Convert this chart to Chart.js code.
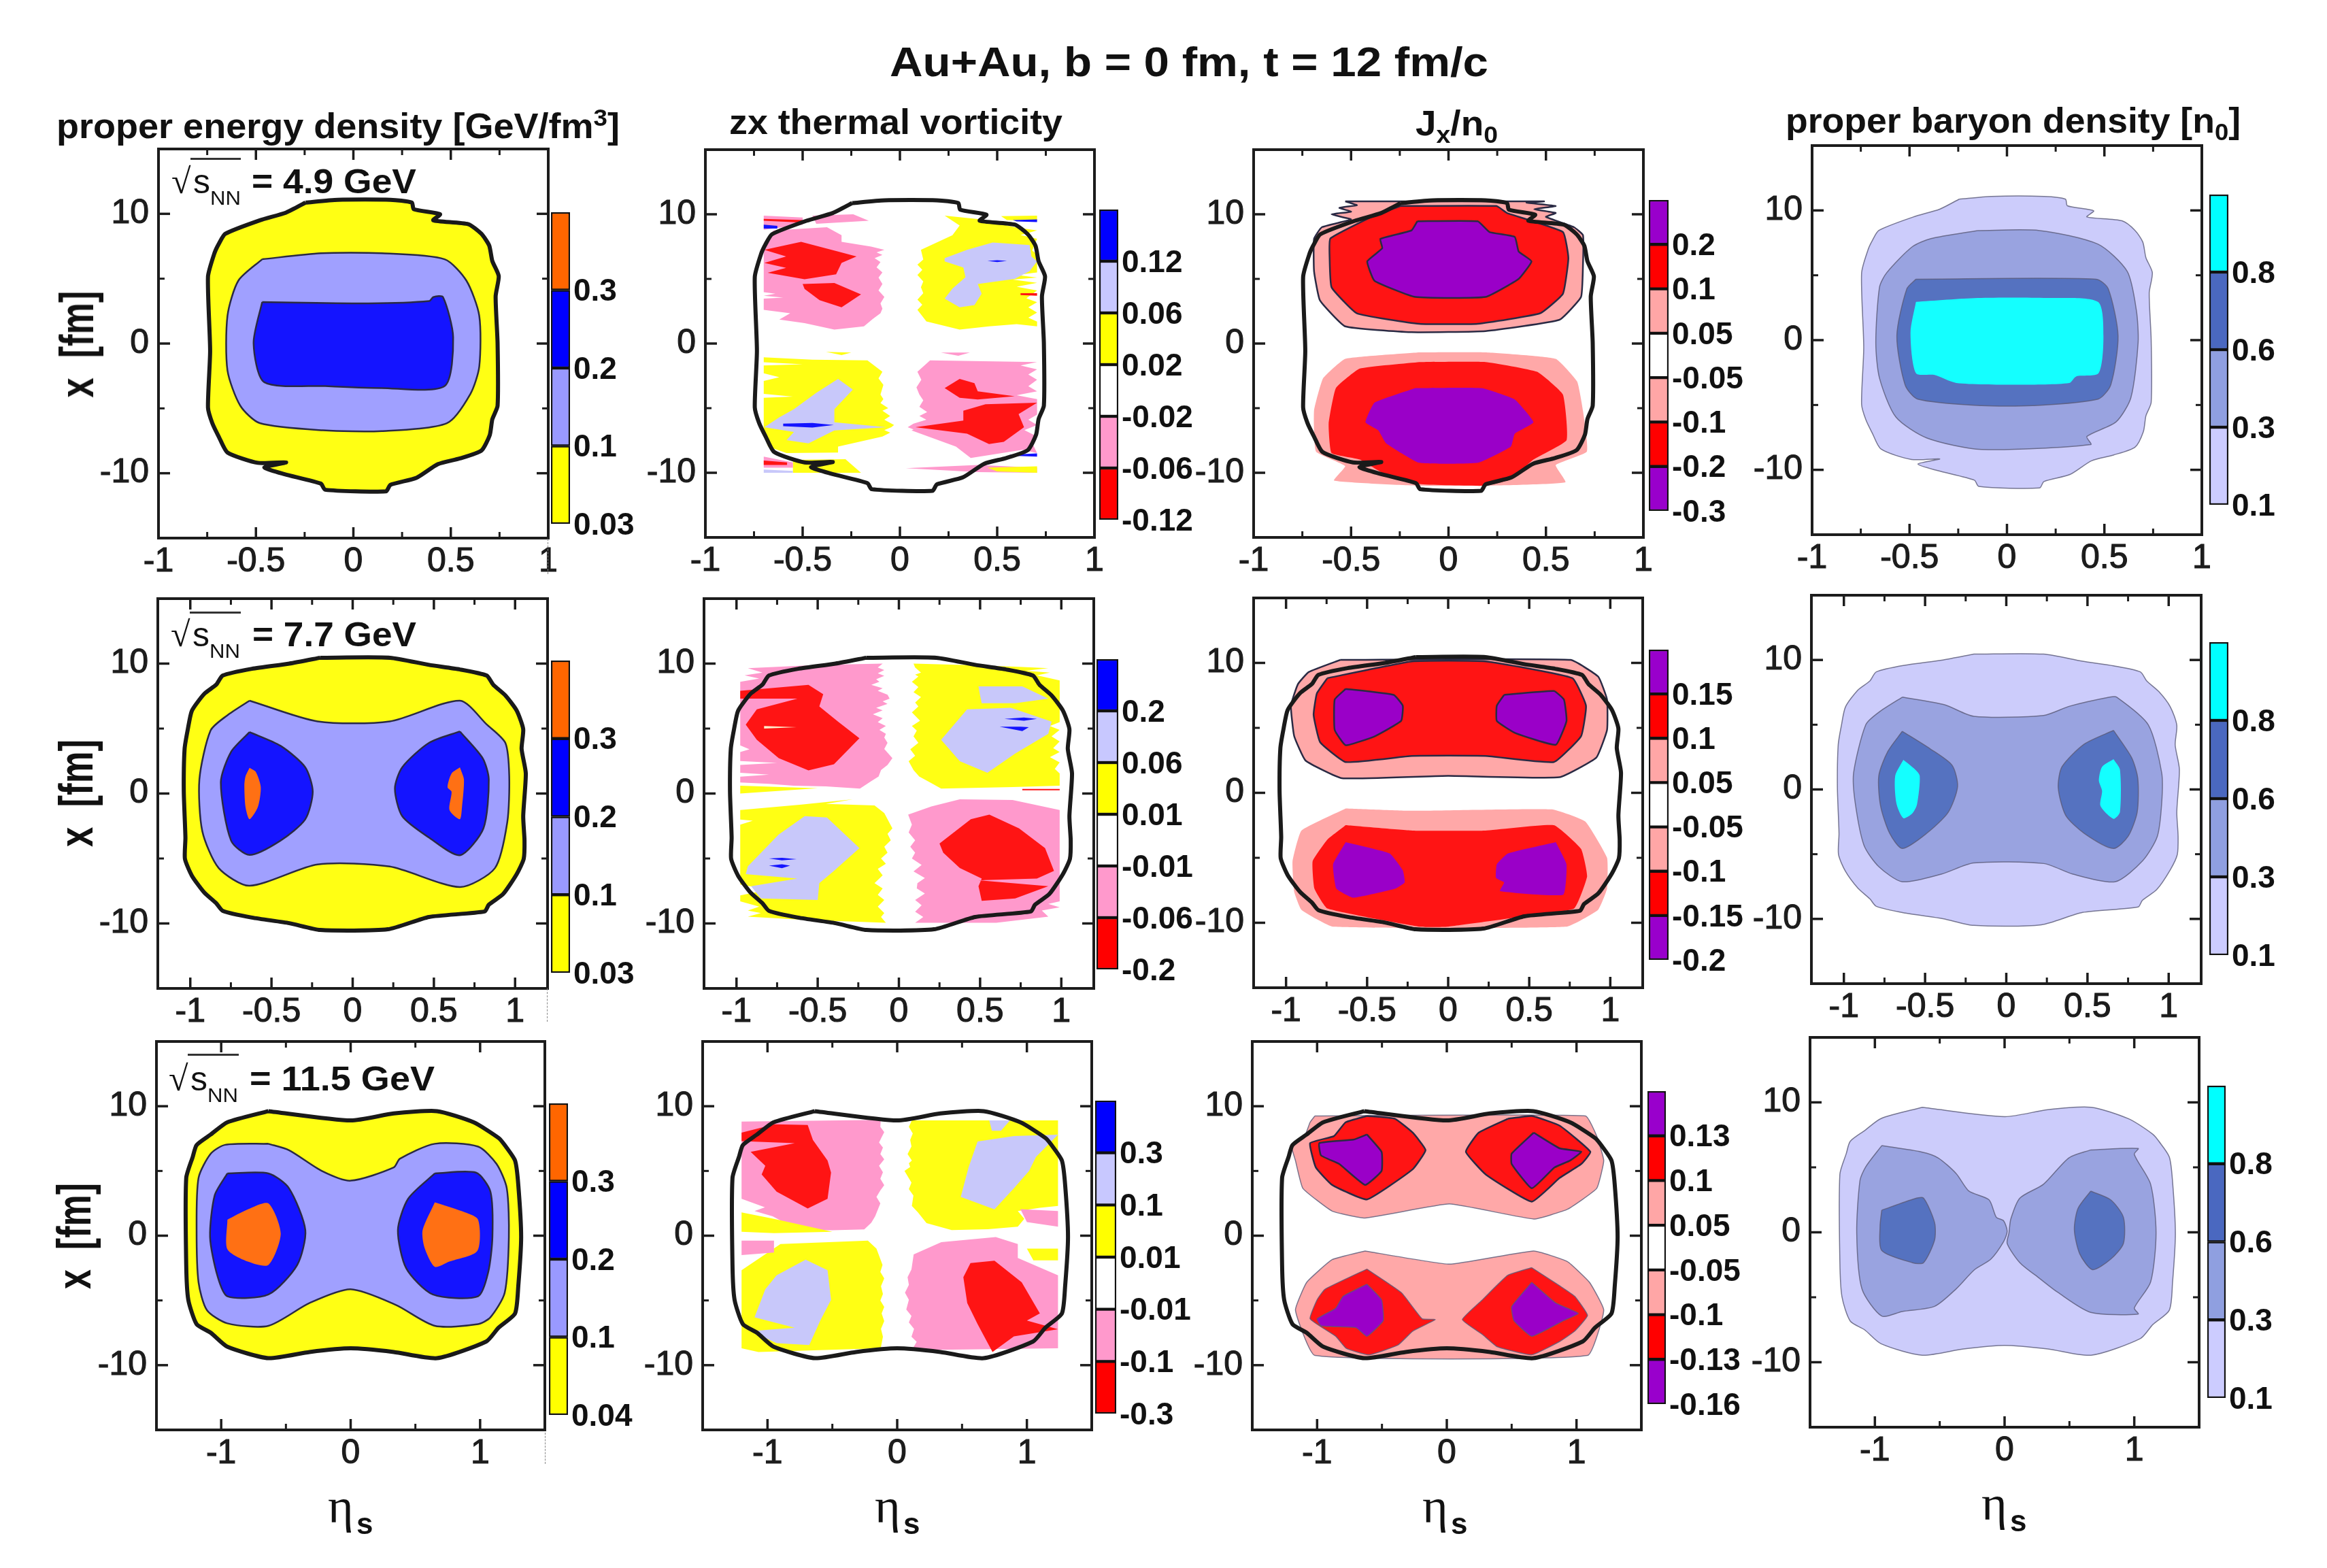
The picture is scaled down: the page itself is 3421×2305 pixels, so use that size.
<!DOCTYPE html>
<html><head><meta charset="utf-8">
<script src="https://cdn.jsdelivr.net/npm/chart.js@4/dist/chart.umd.js"></script>
<style>
html,body{margin:0;padding:0;background:#fff;width:3421px;height:2305px;overflow:hidden}
canvas{position:absolute}
.t{position:absolute;white-space:nowrap;line-height:1;color:#111;font-family:"Liberation Sans",Arial,sans-serif;transform-origin:0 0}
.t sub,.t sup{line-height:0;font-size:68%}
</style></head><body>
<script>
// ---------- contour data, [eta_s, x] ----------
const boundary49=[[-.245,10.87],[-.08,11.08],[.19,11.08],[.30,10.87],[.31,10.36],[.445,9.97],[.41,9.5],[.59,9.2],[.657,8.46],[.697,7.56],[.713,6.36],[.746,5.2],[.73,3.64],[.74,.03],[.74,-4.8],[.713,-5.84],[.70,-7.05],[.657,-8.25],[.546,-8.86],[.434,-9.3],[.323,-10.36],[.19,-10.9],[.167,-11.4],[-.145,-11.27],[-.167,-10.8],[-.356,-10.06],[-.457,-9.55],[-.345,-9.16],[-.49,-9.2],[-.646,-8.4],[-.69,-7.2],[-.724,-6.14],[-.746,-4.94],[-.735,-.57],[-.746,5.15],[-.713,6.96],[-.69,7.7],[-.657,8.46],[-.48,9.5],[-.345,10.1]];
const boundary77=[[-.2,10.45],[.23,10.45],[.47,9.9],[.66,9.55],[.825,9.08],[.865,8.38],[.94,7.55],[1.01,6.38],[1.05,4.96],[1.04,3.44],[1.066,1.55],[1.05,-1.74],[1.058,-3.62],[1.053,-5.03],[1.01,-6.2],[.926,-7.74],[.838,-8.56],[.812,-9.08],[.47,-9.5],[.216,-10.45],[-.2,-10.5],[-.39,-9.98],[-.62,-9.55],[-.8,-9.03],[-.84,-8.45],[-.914,-7.62],[-.99,-6.33],[-1.033,-5.03],[-1.03,-3.39],[-1.04,.14],[-1.035,3.44],[-1.015,4.96],[-.99,6.38],[-.914,7.67],[-.84,8.38],[-.8,9.08],[-.62,9.6],[-.39,10]];
const boundary115=[[-.635,9.62],[0,8.9],[.333,9.44],[.667,9.62],[.95,8.76],[1.143,7.55],[1.19,7],[1.27,5.8],[1.295,3.92],[1.317,-.1],[1.295,-3.87],[1.27,-6],[1.143,-7.1],[1.048,-8.17],[.667,-9.46],[.333,-8.98],[0,-8.7],[-.317,-8.98],[-.635,-9.46],[-.952,-8.58],[-1.08,-7.5],[-1.19,-6.83],[-1.254,-4.95],[-1.27,-2.26],[-1.27,4.46],[-1.22,6.08],[-1.19,7],[-1.08,7.82],[-.952,8.76]];

// energy density
const e49Light=[[-.468,6.5],[-.167,6.96],[.145,6.96],[.468,6.5],[.58,4.85],[.646,2.14],[.646,-1.78],[.6,-3.9],[.48,-6.14],[.145,-6.75],[-.156,-6.69],[-.48,-6.14],[-.58,-4.8],[-.646,-2.08],[-.646,2.14],[-.59,4.85]];
const e49Blue=[[-.468,3.2],[.078,3.1],[.39,3.28],[.41,3.58],[.46,3.58],[.512,.48],[.468,-3.28],[.145,-3.43],[-.145,-3.28],[-.457,-2.98],[-.512,.03]];
const e77Light=[[-.635,7.15],[-.216,5.55],[.228,5.55],[.66,7.15],[.825,5.32],[.94,3.9],[.964,1.32],[.952,-2.2],[.876,-5.74],[.66,-7.2],[.228,-5.62],[-.216,-5.46],[-.635,-7.1],[-.825,-5.74],[-.926,-2.9],[-.944,1.08],[-.875,4.85],[-.774,6]];
const e77BlueL=[[-.635,4.73],[-.444,3.67],[-.292,2.02],[-.246,.14],[-.292,-1.98],[-.444,-3.62],[-.635,-4.73],[-.749,-3.62],[-.812,.85],[-.749,3.2]];
const e77BlueR=[[.66,4.78],[.8,2.73],[.838,1.08],[.805,-2.68],[.66,-4.75],[.47,-3.39],[.305,-1.74],[.26,.38],[.305,2.02],[.47,3.9]];
const e77OrangeL=[[-.635,1.98],[-.597,1.67],[-.566,.49],[-.584,-1.04],[-.635,-1.98],[-.66,-1.04],[-.667,.6],[-.66,1.32]];
const e77OrangeR=[[.66,2.02],[.685,1.08],[.673,-1.04],[.66,-1.98],[.596,-1.27],[.609,.14],[.584,.49],[.609,1.55]];
const e115Light=[[-.635,7.1],[-.476,6.6],[-.222,5],[0,4.25],[.333,5.27],[.38,5.94],[.65,7.1],[.984,6.88],[1.127,5.54],[1.206,3.66],[1.222,-.1],[1.19,-4.4],[1.08,-6.3],[.984,-6.83],[.65,-6.96],[.35,-5.35],[0,-4.14],[-.317,-5.2],[-.635,-6.96],[-.952,-6.77],[-1.11,-5.75],[-1.175,-3.6],[-1.19,.43],[-1.175,4.46],[-1.08,6.34],[-.968,7.02]];
const e115BlueL=[[-.952,4.81],[-.635,4.81],[-.476,3.66],[-.35,.43],[-.413,-2.26],[-.635,-4.54],[-.952,-4.68],[-1.03,-3.06],[-1.086,-.1],[-1.05,3.12]];
const e115BlueR=[[.65,4.81],[.968,4.87],[1.08,3.39],[1.095,-.1],[1.063,-2.8],[.984,-4.68],[.635,-4.54],[.43,-2.53],[.365,.43],[.444,2.85]];
const e115OrangeL=[[-.952,1.24],[-.794,2.04],[-.635,2.5],[-.54,.16],[-.635,-2.26],[-.794,-2],[-.952,-1.05]];
const e115OrangeR=[[.65,2.58],[.857,1.9],[.984,1.24],[.978,-1.18],[.762,-2],[.65,-2.4],[.57,-.9],[.556,.43]];

// vorticity 4.9
const v49PinkUL=[[-.65,8.75],[-.375,9],[-.3,8.38],[-.3,7.87],[-.148,7.5],[-.08,7.25],[-.12,7.05],[-.09,6.85],[-.13,6.6],[-.1,6.3],[-.12,5.9],[-.09,5.5],[-.11,5.1],[-.09,4.6],[-.11,4.1],[-.08,3.6],[-.1,3.1],[-.09,2.7],[-.1,2.34],[-.14,1.9],[-.185,1.33],[-.337,1.08],[-.49,1.58],[-.62,1.85],[-.564,2.34],[-.7,2.6],[-.7,3.47],[-.6,3.55],[-.7,3.7],[-.64,3.85],[-.7,3.97],[-.7,7.76],[-.68,8.2]];
const v49PinkTop=[[-.45,9.89],[-.24,10],[-.16,9.5],[-.43,9.26]];
const v49PinkCorner=[[-.7,9.9],[-.5,9.75],[-.5,9.2],[-.7,8.8]];
const v49RedUL=[[-.697,7.25],[-.508,7.87],[-.318,7.12],[-.223,6.74],[-.3,6.24],[-.328,5.36],[-.49,4.98],[-.68,5.48],[-.585,5.86],[-.697,6.24],[-.585,6.74]];
const v49RedUL2=[[-.5,4.6],[-.337,4.68],[-.2,3.8],[-.3,2.8],[-.413,3.35],[-.49,4.23]];
const v49RedStripe=[[-.7,9.65],[-.5,9.55],[-.5,9.35],[-.7,9.5]];
const v49BlueStripe=[[-.7,9.2],[-.63,9.1],[-.63,8.9],[-.7,8.9]];
const v49YellowUR=[[.23,9.89],[.4,9.63],[.59,9],[.705,8.75],[.62,8.4],[.705,8.1],[.68,7.2],[.705,6.9],[.705,5.5],[.6,5.3],[.705,5.1],[.58,4.95],[.705,4.7],[.6,4.4],[.705,4.1],[.65,3.5],[.705,3.2],[.66,2.8],[.705,2.4],[.66,2],[.705,1.7],[.705,1.33],[.6,1.5],[.458,1.33],[.307,1.08],[.136,1.71],[.09,2.6],[.115,3],[.09,3.4],[.12,3.9],[.108,4.35],[.12,4.8],[.09,5.3],[.115,5.7],[.09,6.1],[.12,6.5],[.108,7.25],[.27,8.38],[.307,9.13]];
const v49YellowCorner=[[.52,9.85],[.705,9.9],[.705,9.5],[.55,9.55]];
const v49BlueCorner=[[.58,9.55],[.705,9.6],[.705,9.4],[.6,9.45]];
const v49LavUR=[[.23,6.6],[.345,7.25],[.477,7.82],[.667,7.62],[.676,6.74],[.705,6.36],[.667,5.6],[.59,5],[.40,4.6],[.42,3.85],[.383,2.97],[.307,2.8],[.23,3.47],[.27,4.25],[.337,5.13],[.326,5.88],[.23,6.35]];
const v49BlueUR=[[.45,6.4],[.5,6.45],[.55,6.4],[.5,6.3]];
const v49RedRight=[[.62,3.9],[.705,3.9],[.705,3.7],[.62,3.75]];
const v49YellowLL=[[-.7,-1.06],[-.45,-1.25],[-.167,-1.3],[-.09,-2.19],[-.11,-2.7],[-.085,-3.2],[-.1,-3.95],[-.085,-4.3],[-.1,-4.6],[-.06,-5],[-.09,-5.2],[-.05,-5.6],[-.08,-5.9],[-.03,-6.3],[-.044,-6.47],[-.08,-6.7],[-.05,-6.9],[-.09,-7.2],[-.318,-7.97],[-.318,-8.43],[-.583,-8.48],[-.678,-7.97],[-.7,-7],[-.7,-4.2],[-.55,-4.1],[-.7,-3.9],[-.7,-2.9],[-.62,-2.6],[-.7,-2.3],[-.7,-1.7],[-.5,-1.6],[-.7,-1.45]];
const v49YellowLow=[[-.55,-9],[-.28,-8.95],[-.2,-10],[-.55,-10]];
const v49PinkLowCorner=[[-.7,-8.75],[-.55,-9.2],[-.55,-9.6],[-.7,-9.6]];
const v49RedLowCorner=[[-.7,-9.05],[-.58,-9.2],[-.58,-9.4],[-.7,-9.4]];
const v49LavLowCorner=[[-.7,-9.75],[-.55,-9.85],[-.55,-10],[-.7,-10]];
const v49LavLL=[[-.318,-2.74],[-.242,-3.57],[-.337,-5.08],[-.337,-6.09],[-.07,-6.47],[-.337,-6.72],[-.47,-7.72],[-.583,-7.47],[-.545,-6.84],[-.697,-6.47],[-.62,-5.71],[-.545,-5.08],[-.43,-3.82]];
const v49BlueLL=[[-.6,-6.2],[-.45,-6.15],[-.34,-6.3],[-.45,-6.5],[-.6,-6.4]];
const v49PinkLR=[[.09,-2.19],[.155,-1.3],[.705,-1.43],[.62,-1.7],[.705,-2],[.66,-2.4],[.705,-2.8],[.66,-3.3],[.705,-3.7],[.6,-4],[.705,-4.3],[.705,-5.5],[.66,-5.9],[.705,-6.3],[.64,-6.7],[.705,-7.2],[.68,-7.7],[.705,-8.48],[.63,-8.23],[.364,-8.86],[.288,-7.97],[.06,-6.72],[.07,-6.65],[.04,-6.47],[.07,-6.2],[.136,-5.9],[.1,-5.6],[.14,-5.3],[.1,-4.9],[.12,-4.4],[.1,-3.95],[.085,-3.4],[.11,-2.8]];
const v49RedLR=[[.23,-3.45],[.307,-2.74],[.383,-3.07],[.4,-3.7],[.59,-4.08],[.4,-4.33],[.307,-4.2]];
const v49RedLR2=[[.326,-5.2],[.44,-4.7],[.705,-4.58],[.61,-5.46],[.638,-6.47],[.534,-7.6],[.458,-7.77],[.345,-6.97],[.08,-6.47],[.326,-5.96]];
const v49PinkLowStrip=[[.03,-9.65],[.4,-9.4],[.705,-9.6],[.705,-10],[.4,-9.95]];
const v49YellowLowStrip=[[.45,-9.6],[.705,-9.5],[.705,-10],[.5,-9.9]];
const v49BlueLowStrip=[[.56,-8.6],[.705,-8.5],[.705,-8.75],[.6,-8.7]];
const v49PinkMid=[[.21,-.7],[.36,-.7],[.3,-.95]];
const v49YellowMid=[[-.38,-.65],[-.25,-.7],[-.3,-.9]];

// vorticity 7.7
const v77PinkUL=[[-.93,9.65],[-.5,9.9],[-.1,10],[-.13,9.7],[-.09,9.5],[-.13,9.25],[-.09,9.06],[-.14,8.8],[-.12,8.6],[-.17,8.36],[-.1,8.1],[-.13,7.9],[-.07,7.6],[-.057,7.3],[-.1,7.1],[-.07,6.9],[-.14,6.6],[-.1,6.4],[-.16,6.1],[-.1,5.8],[-.13,5.5],[-.08,5.2],[-.12,4.9],[-.08,4.6],[-.09,4.3],[-.07,3.9],[-.09,3.43],[-.04,2.72],[-.07,2.2],[-.11,1.8],[-.125,1.31],[-.17,.95],[-.24,.38],[-.45,.55],[-.648,.6],[-.8,.75],[-.977,.85],[-.977,1.3],[-.8,1.45],[-.977,1.6],[-.977,2.2],[-.75,2.35],[-.977,2.5],[-.977,3.2],[-.92,3.4],[-.977,3.7],[-.977,8.6],[-.86,8.85],[-.95,9.1],[-.84,9.3]];
const v77RedUL=[[-.977,7.9],[-.557,8.36],[-.466,7.65],[-.49,6.7],[-.375,5.54],[-.243,4.25],[-.4,2.25],[-.557,1.78],[-.74,2.72],[-.875,4.13],[-.943,5.3],[-.875,6.48],[-.625,7.3],[-.977,7.3]];
const v77PaleUL=[[-.83,5.2],[-.63,5.1],[-.83,5]];
const v77YellowUR=[[.09,10],[.4,9.9],[.716,9.76],[.92,9.65],[.78,9.45],[.93,9.3],[.85,9.1],[.99,8.7],[.99,8.36],[.99,5.5],[.93,5.2],[.99,4.9],[.94,4.4],[.99,4],[.95,3.5],[.99,3.2],[.93,2.8],[.99,2.4],[.96,1.9],[.99,1.55],[.99,.6],[.7,.5],[.26,.38],[.2,.8],[.125,1.31],[.09,1.8],[.06,2.49],[.1,2.9],[.07,3.4],[.12,3.9],[.09,4.4],[.11,4.84],[.08,5.2],[.13,5.6],[.08,6.24],[.12,6.7],[.1,7],[.136,7.42],[.09,7.8],[.12,8.2],[.08,8.6],[.12,9],[.1,9.15],[.136,9.3],[.1,9.7]];
const v77LavUR1=[[.49,8.24],[.76,8.24],[.92,7.3],[.716,6.95],[.51,6.95],[.5,7.54]];
const v77LavUR2=[[.26,4.13],[.42,6.48],[.69,6.6],[.94,5.54],[.92,4.6],[.716,3.07],[.545,1.6],[.375,2.49]];
const v77BlueUR1=[[.65,5.75],[.77,5.85],[.85,5.75],[.77,5.6]];
const v77BlueUR2=[[.62,5.15],[.75,5.15],[.8,5.1],[.76,4.8]];
const v77YellowLL=[[-.977,-1.27],[-.6,-.85],[-.284,-.45],[-.45,-.8],[-.15,-.92],[-.09,-1.5],[-.04,-2.68],[-.07,-3.1],[-.05,-3.6],[-.09,-4.1],[-.07,-4.55],[-.11,-5],[-.08,-5.4],[-.13,-5.8],[-.1,-6.3],[-.15,-6.9],[-.1,-7.3],[-.13,-7.8],[-.09,-8.2],[-.13,-8.7],[-.09,-9.2],[-.11,-9.5],[-.08,-9.95],[-.58,-9.72],[-.93,-9.48],[-.85,-9.2],[-.93,-9],[-.86,-8.7],[-.977,-8.3],[-.977,-7.84],[-.8,-7.4],[-.977,-7],[-.977,-2.4],[-.9,-2.1],[-.977,-2]];
const v77LavLL=[[-.93,-5.6],[-.74,-3.15],[-.58,-1.74],[-.443,-1.85],[-.243,-4.2],[-.4,-5.96],[-.49,-6.9],[-.5,-8.2],[-.85,-8.07],[-.91,-7.14],[-.625,-6.55],[-.943,-6.2]];
const v77BlueLL1=[[-.8,-5],[-.72,-4.95],[-.63,-5.05],[-.72,-5.15]];
const v77BlueLL2=[[-.8,-5.55],[-.72,-5.45],[-.67,-5.55],[-.72,-5.75]];
const v77PinkLR=[[.057,-1.62],[.2,-1],[.375,-.45],[.7,-.5],[.99,-1.27],[.99,-8.3],[.92,-8.5],[.99,-8.75],[.88,-9],[.92,-9.48],[.6,-9.95],[.1,-9.95],[.15,-9.5],[.1,-9.1],[.14,-8.6],[.1,-8.2],[.16,-7.7],[.11,-7.3],[.114,-6.9],[.16,-6.5],[.09,-6],[.14,-5.5],[.08,-5],[.1,-4.55],[.07,-4.1],[.1,-3.6],[.06,-3],[.08,-2.4]];
const v77RedLR=[[.25,-3.85],[.443,-1.97],[.557,-1.62],[.74,-2.68],[.9,-4.2],[.955,-5.96],[.85,-6.55],[.49,-6.67],[.92,-7.14],[.716,-8.07],[.51,-8.26],[.49,-7.14],[.51,-6.55],[.375,-5.73],[.273,-4.55]];
const v77YellowMid=[[-.977,.6],[-.5,.4],[-.977,0]];
const v77RedMid=[[.76,.35],[.99,.35],[.99,.25],[.76,.25]];

// vorticity 11.5
const v115PinkUL=[[-1.2,8.82],[-.127,8.95],[-.13,8.4],[-.1,8],[-.12,7.6],[-.14,7.2],[-.11,6.8],[-.13,6.3],[-.1,5.9],[-.14,5.4],[-.11,4.9],[-.13,4.4],[-.1,3.9],[-.13,3.5],[-.16,3],[-.13,2.5],[-.17,1.5],[-.2,1],[-.254,.48],[-.5,.42],[-.79,.43],[-.85,.9],[-.96,1.5],[-1.1,1.9],[-1.02,2.2],[-1.2,2.85]];
const v115RedUL=[[-1.2,7.96],[-.946,8.6],[-.69,8.55],[-.65,7.4],[-.537,5.8],[-.51,4.87],[-.537,2.85],[-.69,2.1],[-.93,3.4],[-1.045,4.73],[-1.017,5.4],[-1.13,6.48],[-.79,7.15],[-1.2,7.3]];
const v115YellowUR=[[.113,8.9],[1.24,8.9],[1.24,2.3],[1.1,2.15],[.93,1.9],[.98,1.3],[.93,.7],[.7,.5],[.42,.43],[.226,.97],[.16,1.8],[.113,2.3],[.125,3.1],[.09,3.6],[.11,4.1],[.056,5],[.1,5.3],[.09,5.6],[.113,5.8],[.08,6.3],[.11,6.9],[.1,7.4],[.12,7.9],[.09,8.4]];
const v115LavUR=[[.62,7.28],[.9,7.7],[1.24,7.8],[1.07,6.08],[1.017,5],[.9,3.66],[.75,2.04],[.49,3],[.55,5.27]];
const v115LavTop=[[.71,8.9],[.87,8.9],[.8,8.1],[.73,8.1]];
const v115PinkRight=[[.95,2.05],[1.24,1.9],[1.24,.7],[1,1.05]];
const v115YellowLL=[[-1.2,-2.66],[-.9,-.65],[-.226,-.38],[-.16,-1],[-.113,-2.26],[-.13,-2.8],[-.1,-3.3],[-.125,-3.9],[-.11,-4.5],[-.13,-5],[-.1,-5.5],[-.12,-6],[-.1,-6.6],[-.125,-7.2],[-.11,-7.8],[-.127,-8.7],[-1.07,-8.98],[-1.2,-8.7]];
const v115YellowLeft=[[-1.2,1.8],[-.95,1.3],[-.5,.3],[-.95,.2],[-1.2,.3]];
const v115PinkLeft=[[-1.2,-.38],[-.95,-.38],[-.95,-1.3],[-1.2,-1.5]];
const v115LavLL=[[-.93,-3.06],[-.706,-1.85],[-.537,-2.66],[-.51,-4.95],[-.593,-6.56],[-.678,-8.44],[-.93,-8.3],[-1.13,-7.37],[-.79,-7.1],[-1.1,-6.3],[-1.017,-4.14]];
const v115PinkLR=[[.127,-1.45],[.34,-.5],[.76,-.1],[.93,-.65],[.93,-1.72],[1.24,-3.06],[1.24,-8.7],[.113,-8.84],[.15,-8.2],[.11,-7.8],[.13,-7.2],[.09,-6.7],[.11,-6.2],[.07,-5.7],[.09,-4.95],[.06,-4.4],[.09,-3.8],[.08,-3.2],[.11,-2.6]];
const v115RedLR=[[.51,-3.2],[.565,-2.12],[.75,-1.93],[.96,-3.6],[1.1,-6],[1,-6.56],[1.24,-7.23],[.9,-7.77],[.735,-8.98],[.62,-6.83],[.54,-5.2]];
const v115YellowRight=[[1,-1],[1.24,-1],[1.24,-1.9],[1.05,-1.9]];

// Jx 4.9
const j49PinkU=[[-.53,11],[.49,11],[.4,10.9],[.55,10.64],[.44,10.4],[.55,10.1],[.5,9.8],[.644,9],[.69,8.38],[.69,6.1],[.68,3.6],[.57,1.84],[.19,.96],[-.19,.88],[-.53,1.33],[-.66,3.35],[-.69,5.6],[-.69,8.1],[-.65,9],[-.5,9.6],[-.6,10],[-.5,10.2],[-.56,10.5],[-.47,10.7]];
const j49RedU=[[-.246,10.64],[.246,10.64],[.3,10.1],[.587,8.63],[.615,6.6],[.587,3.85],[.47,2.34],[.15,1.53],[-.15,1.53],[-.47,2.34],[-.6,4.35],[-.61,6.6],[-.606,8.13],[-.38,9.9]];
const j49PurpleU=[[-.16,9.46],[.15,9.46],[.21,8.63],[.34,8.25],[.36,7.12],[.426,6.36],[.36,5],[.19,3.6],[-.17,3.6],[-.38,4.86],[-.417,6.36],[-.34,7.37],[-.35,8.1],[-.19,8.75]];
const j49PinkL=[[-.15,-.68],[.19,-.68],[.55,-1.18],[.66,-2.94],[.69,-5.2],[.71,-8.35],[.55,-9.4],[.6,-10.74],[.19,-11],[-.15,-11],[-.587,-10.6],[-.53,-9.48],[-.68,-8.35],[-.69,-5.2],[-.644,-2.7],[-.53,-1.18]];
const j49RedL=[[-.15,-1.43],[.19,-1.43],[.455,-2.19],[.587,-3.95],[.606,-7.47],[.436,-8.98],[.32,-10.5],[.19,-11],[-.15,-10.87],[-.34,-10],[-.455,-8.98],[-.6,-8.48],[-.615,-6.2],[-.578,-3.45],[-.455,-1.94]];
const j49PurpleL=[[-.17,-3.45],[.17,-3.45],[.34,-4.33],[.436,-6.09],[.34,-6.97],[.32,-7.97],[.15,-9.23],[-.15,-9.23],[-.32,-7.72],[-.36,-6.72],[-.426,-6.09],[-.38,-4.58]];

// Jx 7.7
const j77PinkU=[[-.666,10.23],[.755,10.23],[.926,8.94],[.98,7.18],[.98,4.84],[.914,2.72],[.686,1.2],[0,1.31],[-.655,1.13],[-.88,2.49],[-.95,4.37],[-.97,6.71],[-.927,8.36],[-.86,9.3]];
const j77RedU=[[-.745,8.83],[-.223,10.12],[.23,10.12],[.766,8.83],[.85,6.71],[.82,4.37],[.652,2.37],[.23,2.84],[-.223,2.84],[-.632,2.37],[-.79,3.9],[-.83,6],[-.81,7.65]];
const j77PurpleUL=[[-.632,8],[-.336,7.54],[-.28,6.71],[-.29,5.54],[-.45,4.37],[-.632,3.66],[-.7,4.84],[-.7,7.18]];
const j77PurpleUR=[[.345,7.54],[.652,7.84],[.714,7.18],[.73,5.54],[.664,3.7],[.414,4.6],[.3,5.54],[.3,6.71]];
const j77PinkL=[[-.632,-1.2],[-.223,-1.38],[.64,-1.27],[.845,-2.2],[.98,-5],[.98,-7.37],[.925,-9],[.73,-10.3],[-.71,-10.3],[-.905,-9],[-.95,-7.6],[-.96,-5.26],[-.905,-2.9]];
const j77RedL=[[-.632,-2.49],[-.223,-2.9],[.23,-2.9],[.652,-2.49],[.82,-4.32],[.857,-6.43],[.777,-8.9],[.414,-9.6],[0,-10.3],[-.177,-10.3],[-.745,-8.9],[-.825,-7.37],[-.836,-5.26],[-.745,-3.6]];
const j77PurpleLL=[[-.632,-3.8],[-.36,-4.67],[-.28,-5.96],[-.268,-6.9],[-.325,-7.37],[-.586,-8.07],[-.69,-7.37],[-.71,-5.5]];
const j77PurpleLR=[[.664,-3.8],[.73,-5.5],[.71,-7.84],[.32,-7.56],[.345,-6.9],[.295,-6.55],[.3,-5.5],[.368,-4.67]];

// Jx 11.5
const j115PinkU=[[-1.017,9.25],[1.07,9.25],[1.156,7.69],[1.21,5.8],[1.156,3.66],[.93,2.04],[.67,1.29],[.02,2.45],[-.63,1.37],[-.884,1.9],[-1.11,3.66],[-1.167,5.8],[-1.195,6.88],[-1.096,7.69],[-1.054,8.76]];
const j115RedUL=[[-.616,9.25],[-.4,9.03],[-.263,7.96],[-.164,6.61],[-.263,5.13],[-.616,2.8],[-.884,3.92],[-1.01,5.27],[-1.054,7.15],[-.87,7.69],[-.78,8.76]];
const j115PurpleUL=[[-.616,7.82],[-.503,6.48],[-.503,5],[-.63,3.92],[-.83,5.54],[-.97,6.2],[-.983,7.15],[-.72,7.42]];
const j115RedUR=[[.47,9.03],[.655,9.25],[.87,8.5],[1.107,6.48],[1.037,5.54],[.87,4.46],[.655,2.63],[.3,4.73],[.147,6.48],[.246,7.96]];
const j115PurpleUR=[[.67,7.96],[.87,6.75],[1.037,6.48],[.95,5.8],[.83,5.27],[.655,3.66],[.5,5.54],[.5,6.34]];
const j115PinkL=[[-.63,-1.18],[.02,-2.2],[.67,-1.18],[.93,-2],[1.1,-3.6],[1.21,-5.75],[1.085,-9.25],[-1.017,-9.25],[-1.167,-5.75],[-1.08,-3.6],[-.884,-1.85]];
const j115RedLL=[[-.616,-2.58],[-.35,-4.4],[-.19,-6.42],[-.09,-6.48],[-.263,-7.37],[-.376,-8.44],[-.6,-9.2],[-.775,-8.7],[-.856,-7.77],[-1.054,-6.42],[-1,-4.95],[-.94,-4.14]];
const j115PurpleLL=[[-.616,-3.74],[-.503,-4.95],[-.49,-6.56],[-.616,-7.77],[-.7,-7.1],[-.97,-6.96],[-1,-6.42],[-.856,-5.6],[-.8,-4.68]];
const j115RedLR=[[.655,-2.47],[.87,-3.87],[.986,-4.68],[1.085,-6.16],[.986,-7.37],[.87,-8.17],[.655,-9.2],[.39,-8.58],[.275,-7.63],[.12,-6.48],[.275,-4.95],[.47,-3.06]];
const j115PurpleLR=[[.655,-3.6],[.84,-5.2],[1.014,-6],[.9,-6.56],[.655,-7.77],[.517,-6.56],[.5,-5.48]];

// baryon density
const n49Mid=[[-.15,8.45],[.168,8.45],[.467,7.4],[.617,5.3],[.664,2.3],[.673,-.18],[.636,-4.43],[.56,-6.3],[.41,-7.43],[.43,-8.05],[-.13,-8.43],[-.41,-7.55],[-.57,-5.93],[-.654,-2.93],[-.673,-.18],[-.654,4.08],[-.617,5.2],[-.486,7.2],[-.39,7.83]];
const n49Deep=[[-.467,4.7],[.458,4.7],[.52,3.95],[.57,.33],[.533,-3.43],[.467,-4.55],[.13,-5.05],[-.13,-5.05],[-.458,-4.55],[-.523,-3.43],[-.565,.33],[-.514,3.95]];
const n49Cyan=[[-.467,2.95],[-.15,3.25],[.205,3.25],[.467,2.95],[.495,.33],[.47,-2.55],[.355,-2.8],[.32,-3.3],[.056,-3.43],[-.26,-3.3],[-.374,-2.68],[-.467,-2.55],[-.495,.58]];
const n77Mid=[[-.64,7.13],[-.38,6.54],[-.2,5.65],[.23,5.72],[.39,6.43],[.637,7.13],[.68,7.13],[.874,5],[.957,1.28],[.957,-1.05],[.93,-3.62],[.84,-5.5],[.67,-7.13],[.41,-6.54],[.23,-5.72],[-.2,-5.68],[-.4,-6.54],[-.64,-7.13],[-.785,-5.96],[-.876,-4.32],[-.93,-1.05],[-.94,1.28],[-.865,5],[-.785,5.96]];
const n77DeepL=[[-.64,4.49],[-.47,3.15],[-.334,1.87],[-.3,.23],[-.357,-1.75],[-.49,-3.39],[-.64,-4.56],[-.718,-3.39],[-.774,-1.28],[-.785,1.05],[-.73,2.92]];
const n77DeepR=[[.66,4.56],[.772,2.45],[.81,.82],[.806,-1.75],[.75,-3.62],[.66,-4.56],[.48,-3.39],[.366,-2],[.32,.12],[.343,1.75],[.48,3.5]];
const n77CyanL=[[-.634,2.29],[-.57,1.64],[-.533,1.05],[-.55,-1.17],[-.58,-1.87],[-.634,-2.22],[-.677,-1.05],[-.684,1.05]];
const n77CyanR=[[.66,2.34],[.7,1.52],[.7,-1.75],[.66,-2.27],[.58,-1.28],[.59,-.12],[.57,.7],[.59,1.75]];
const n115MidL=[[-.947,6.67],[-.64,6.18],[-.513,5.73],[-.373,4.52],[-.275,3.17],[-.12,2.5],[-.064,1.16],[-.008,.89],[.02,.08],[-.008,-.73],[-.106,-2.07],[-.232,-2.88],[-.373,-4.35],[-.54,-5.7],[-.79,-6.1],[-.947,-6.45],[-1.1,-4.35],[-1.14,-.05],[-1.115,3.98],[-1.07,5.05]];
const n115MidR=[[.664,6.34],[1.03,6.45],[1,6],[1.126,3.7],[1.168,-.05],[1.126,-3.82],[1,-5.83],[1.03,-6.29],[.664,-6.16],[.41,-4.62],[.27,-3.55],[.118,-2.34],[.02,-.86],[.034,-.05],[.048,1.02],[.118,2.63],[.3,3.7],[.496,5.73]];
const n115DeepL=[[-.947,1.7],[-.695,2.58],[-.625,2.63],[-.54,.75],[-.54,-.6],[-.625,-2.34],[-.71,-2.34],[-.947,-1.4],[-.96,.48]];
const n115DeepR=[[.664,3.17],[.818,2.5],[.916,1.16],[.916,-.86],[.818,-2.07],[.678,-2.88],[.58,-1.67],[.538,.2],[.566,1.83]];

// ---------- colour bar levels ----------
const levelsE49=['0.03','0.1','0.2','0.3'], levelsE77=['0.03','0.1','0.2','0.3'], levelsE115=['0.04','0.1','0.2','0.3'];
const levelsV49=['-0.12','-0.06','-0.02','0.02','0.06','0.12'], levelsV77=['-0.2','-0.06','-0.01','0.01','0.06','0.2'], levelsV115=['-0.3','-0.1','-0.01','0.01','0.1','0.3'];
const levelsJ49=['-0.3','-0.2','-0.1','-0.05','0.05','0.1','0.2'], levelsJ77=['-0.2','-0.15','-0.1','-0.05','0.05','0.1','0.15'], levelsJ115=['-0.16','-0.13','-0.1','-0.05','0.05','0.1','0.13'];
const levelsN=['0.1','0.3','0.6','0.8'];
const barE=['#ffff00','#9999ff','#0000ff','#ff6600'];
const barV=['#ff0000','#ff99cc','#ffffff','#ffff00','#c8c8ff','#0000ff'];
const barJ=['#9900cc','#ff0000','#ffa6a6','#ffffff','#ffa6a6','#ff0000','#9900cc'];
const barN=['#ccccff','#8f9fe0','#4a68c0','#00ffff'];

// ---------- axis ticks ----------
const yMajor=[-10,0,10], yMinor=[-5,5];
const xRanges=[1,1.2,1.5];
const xMajors=[[-1,-.5,0,.5,1],[-1,-.5,0,.5,1],[-1,0,1]];
const xMinors=[[-.75,-.25,.25,.75],[-.75,-.25,.25,.75],[-.5,.5]];

// ---------- colours of regions ----------
const YEL='#ffff14',LIG='#a0a0ff',BLU='#1414ff',ORA='#ff7014',PNK='#ff99cc',LAV='#c8c8fa',RED='#ff1414',PUR='#9a00c8',SAL='#ffa8a8',N1='#ccccfb',N2='#99a3e0',N3='#5572c0',CYA='#14ffff',PAL='#ffeecc';

// [polygon, colour, line] — line: 0 none, 1 thin contour, 2 heavy outer contour, 3 hairline
const panels=[
 [[boundary49,YEL,0],[e49Light,LIG,1],[e49Blue,BLU,1],[boundary49,null,2]],
 [[v49PinkUL,PNK,0],[v49PinkTop,PNK,0],[v49PinkCorner,PNK,0],[v49RedUL,RED,0],[v49RedUL2,RED,0],[v49RedStripe,RED,0],[v49BlueStripe,BLU,0],[v49YellowUR,YEL,0],[v49YellowCorner,YEL,0],[v49BlueCorner,BLU,0],[v49LavUR,LAV,0],[v49BlueUR,BLU,0],[v49RedRight,RED,0],[v49YellowLL,YEL,0],[v49YellowLow,YEL,0],[v49PinkLowCorner,PNK,0],[v49RedLowCorner,RED,0],[v49LavLowCorner,LAV,0],[v49LavLL,LAV,0],[v49BlueLL,BLU,0],[v49PinkLR,PNK,0],[v49RedLR,RED,0],[v49RedLR2,RED,0],[v49PinkLowStrip,PNK,0],[v49YellowLowStrip,YEL,0],[v49BlueLowStrip,BLU,0],[v49PinkMid,PNK,0],[v49YellowMid,YEL,0],[boundary49,null,2]],
 [[j49PinkU,SAL,1],[j49RedU,RED,1],[j49PurpleU,PUR,1],[j49PinkL,SAL,0],[j49RedL,RED,0],[j49PurpleL,PUR,0],[boundary49,null,2]],
 [[boundary49,N1,3],[n49Mid,N2,3],[n49Deep,N3,3],[n49Cyan,CYA,0]],
 [[boundary77,YEL,0],[e77Light,LIG,1],[e77BlueL,BLU,1],[e77BlueR,BLU,1],[e77OrangeL,ORA,0],[e77OrangeR,ORA,0],[boundary77,null,2]],
 [[v77PinkUL,PNK,0],[v77RedUL,RED,0],[v77PaleUL,PAL,0],[v77YellowUR,YEL,0],[v77LavUR1,LAV,0],[v77LavUR2,LAV,0],[v77BlueUR1,BLU,0],[v77BlueUR2,BLU,0],[v77YellowLL,YEL,0],[v77LavLL,LAV,0],[v77BlueLL1,BLU,0],[v77BlueLL2,BLU,0],[v77PinkLR,PNK,0],[v77RedLR,RED,0],[v77YellowMid,YEL,0],[v77RedMid,RED,0],[boundary77,null,2]],
 [[j77PinkU,SAL,1],[j77RedU,RED,1],[j77PurpleUL,PUR,1],[j77PurpleUR,PUR,1],[j77PinkL,SAL,0],[j77RedL,RED,0],[j77PurpleLL,PUR,0],[j77PurpleLR,PUR,0],[boundary77,null,2]],
 [[boundary77,N1,3],[n77Mid,N2,3],[n77DeepL,N3,3],[n77DeepR,N3,3],[n77CyanL,CYA,0],[n77CyanR,CYA,0]],
 [[boundary115,YEL,0],[e115Light,LIG,1],[e115BlueL,BLU,1],[e115BlueR,BLU,1],[e115OrangeL,ORA,0],[e115OrangeR,ORA,0],[boundary115,null,2]],
 [[v115PinkUL,PNK,0],[v115RedUL,RED,0],[v115YellowUR,YEL,0],[v115LavUR,LAV,0],[v115LavTop,LAV,0],[v115PinkRight,PNK,0],[v115YellowLeft,YEL,0],[v115YellowLL,YEL,0],[v115PinkLeft,PNK,0],[v115LavLL,LAV,0],[v115PinkLR,PNK,0],[v115RedLR,RED,0],[v115YellowRight,YEL,0],[boundary115,null,2]],
 [[j115PinkU,SAL,3],[j115RedUL,RED,1],[j115RedUR,RED,1],[j115PurpleUL,PUR,1],[j115PurpleUR,PUR,1],[j115PinkL,SAL,3],[j115RedLL,RED,3],[j115RedLR,RED,3],[j115PurpleLL,PUR,3],[j115PurpleLR,PUR,3],[boundary115,null,2]],
 [[boundary115,N1,3],[n115MidL,N2,3],[n115MidR,N2,3],[n115DeepL,N3,3],[n115DeepR,N3,3]]
];
// frame L,R,T,B in page pixels
const frames=[[233,805.5,219,791],[1037,1609,220,790],[1843,2415.6,220,790],[2664,3236.6,214,786],
 [232,805,879.5,1452],[1035,1608,879.5,1452],[1843,2415,879,1452],[2662.6,3235.6,875.4,1446.4],
 [229.7,801,1531,2101.6],[1033,1604.8,1531,2101.6],[1840.5,2412,1531,2101.6],[2660.5,3232,1524.6,2098]];
const bars=[[810,837.5,311.7,770],[1615.6,1643.8,307.8,764],[2424,2453,293.5,750.7],[3248,3276,286,742],
 [810,838,971.4,1430],[1612,1644,968.7,1424.5],[2424,2453,955,1411],[3248,3276,943.7,1403.6],
 [807,835,1621.7,2080],[1609.6,1641,1618,2077.5],[2422,2449,1604,2063.6],[3245,3272,1596,2055]];
const barLevels=[levelsE49,levelsV49,levelsJ49,levelsN,levelsE77,levelsV77,levelsJ77,levelsN,levelsE115,levelsV115,levelsJ115,levelsN];
const barColors=[barE,barV,barJ,barN];
const columnTension=[.25,0,.12,.25];

const SANS='"Liberation Sans",Arial,sans-serif';
const INK='#1c1c1c';
function mkCanvas(l,t,w,h){const c=document.createElement('canvas');c.style.left=l+'px';c.style.top=t+'px';c.width=w;c.height=h;c.style.width=w+'px';c.style.height=h+'px';document.body.appendChild(c);return c;}

const framePlugin={id:'framePlugin',afterDraw(ch,a,o){
  const g=ch.ctx,A=ch.chartArea,xs=ch.scales.x,ys=ch.scales.y;
  g.save();g.strokeStyle=INK;g.lineCap='butt';
  const line=(x1,y1,x2,y2,w)=>{g.lineWidth=w;g.beginPath();g.moveTo(x1,y1);g.lineTo(x2,y2);g.stroke();};
  o.xMajor.forEach(v=>{const p=xs.getPixelForValue(v);line(p,A.bottom,p,A.bottom-16,3.5);line(p,A.top,p,A.top+16,3.5);});
  o.xMinor.forEach(v=>{const p=xs.getPixelForValue(v);line(p,A.bottom,p,A.bottom-9,3);line(p,A.top,p,A.top+9,3);});
  yMajor.forEach(v=>{const p=ys.getPixelForValue(v);line(A.left,p,A.left+17,p,3.5);line(A.right,p,A.right-17,p,3.5);});
  yMinor.forEach(v=>{const p=ys.getPixelForValue(v);line(A.left,p,A.left+9,p,3);line(A.right,p,A.right-9,p,3);});
  g.lineWidth=4;g.strokeRect(A.left,A.top,A.right-A.left,A.bottom-A.top);
  g.restore();
}};

const LM=180,RM=60,TM=20,BM=80;
panels.forEach((regions,i)=>{
  const row=Math.floor(i/4),[L,R,T,B]=frames[i];
  const cl=Math.round(L)-LM,ct=Math.round(T)-TM,w=Math.round(R-L),h=Math.round(B-T);
  const c=mkCanvas(cl,ct,LM+w+RM,TM+h+BM);
  const n=regions.length;
  const majors=xMajors[row],minors=xMinors[row],rng=xRanges[row];
  const datasets=regions.map(([poly,col,ln],k)=>({
    data:poly.concat([poly[0]]).map(([x,y])=>({x,y})),
    showLine:true,pointRadius:0,pointHoverRadius:0,tension:ln===2?.2:columnTension[i%4],order:n-k,
    fill:col?'shape':false,backgroundColor:col||'transparent',
    borderColor:ln===2?'#1a1a1a':ln===1?'#2a2a44':ln===3?'rgba(90,90,120,.8)':(col||'transparent'),
    borderWidth:ln===2?6:ln===1?2.5:ln===3?1.5:0,borderJoinStyle:'round'
  }));
  const tickFont={family:SANS,size:50};
  new Chart(c,{type:'scatter',data:{datasets},plugins:[framePlugin],options:{
    responsive:false,animation:false,devicePixelRatio:1,events:[],
    layout:{padding:{left:0,right:RM,top:TM,bottom:0}},
    plugins:{legend:{display:false},tooltip:{enabled:false},title:{display:false},
      framePlugin:{xMajor:majors,xMinor:minors}},
    scales:{
      x:{type:'linear',min:-rng,max:rng,grid:{display:false,drawTicks:false},border:{display:false},
        afterBuildTicks:s=>{s.ticks=majors.map(value=>({value}));},
        afterFit:s=>{s.height=BM;s.paddingLeft=0;s.paddingRight=0;},
        ticks:{autoSkip:false,maxRotation:0,padding:5,color:INK,textStrokeColor:INK,textStrokeWidth:1.2,font:tickFont,callback:v=>String(v)}},
      y:{type:'linear',min:-15,max:15,grid:{display:false,drawTicks:false},border:{display:false},
        afterBuildTicks:s=>{s.ticks=yMajor.map(value=>({value}));},
        afterFit:s=>{s.width=LM;s.paddingTop=0;s.paddingBottom=0;},
        ticks:{autoSkip:false,padding:14,color:INK,textStrokeColor:INK,textStrokeWidth:1.2,font:tickFont,callback:v=>String(v)}}
    }}});
});

// colour bars: stacked unit bars, one per contour interval
bars.forEach((b,i)=>{
  const [L,R,T,B]=b,levels=barLevels[i],cols=barColors[i%4];
  const w=Math.round(R-L),h=Math.round(B-T),AX=170,PAD=34;
  const c=mkCanvas(Math.round(L),Math.round(T)-PAD,w+AX,h+2*PAD);
  new Chart(c,{type:'bar',data:{labels:[''],datasets:cols.map((col,k)=>({data:[1],backgroundColor:col,borderColor:'#111',borderWidth:2.5,borderSkipped:false,barPercentage:1,categoryPercentage:1,stack:'s'}))},
   options:{responsive:false,animation:false,devicePixelRatio:1,events:[],
    layout:{padding:{top:PAD,bottom:PAD,left:0,right:0}},
    plugins:{legend:{display:false},tooltip:{enabled:false}},
    scales:{x:{display:false,stacked:true},
     y:{stacked:true,position:'right',min:0,max:cols.length,grid:{display:false,drawTicks:false},border:{display:false},
      afterFit:s=>{s.width=AX;s.paddingTop=0;s.paddingBottom=0;},
      ticks:{stepSize:1,autoSkip:false,padding:5,labelOffset:3,color:'#111',font:{family:SANS,size:46,weight:'bold'},
       callback:v=>levels[v]===undefined?'':levels[v]}}}}});
});

// ---------- text ----------
function text(html,l,base,size,o={}){
  const d=document.createElement('div');d.className='t';d.innerHTML=html;
  d.style.fontSize=size+'px';d.style.left=l+'px';d.style.top=(base-.8465*size)+'px';
  if(o.weight)d.style.fontWeight=o.weight;
  if(o.family)d.style.fontFamily=o.family;
  document.body.appendChild(d);
  if(o.width){const r=d.getBoundingClientRect().width;d.style.transform='scaleX('+(o.width/r)+')';}
  return d;
}
function vtext(html,cx,cy,size,len,thick){
  const d=document.createElement('div');d.className='t';d.innerHTML=html;d.style.fontSize=size+'px';d.style.fontWeight='bold';
  document.body.appendChild(d);
  const r=d.getBoundingClientRect();
  d.style.left=(cx-r.width/2)+'px';d.style.top=(cy-r.height/2)+'px';
  d.style.transformOrigin='50% 50%';d.style.transform='rotate(-90deg) scale('+(len/r.width)+','+thick+')';
}
text('Au+Au, b = 0 fm, t = 12 fm/c',1308,112,62,{weight:'bold',width:880});
text('proper energy density [GeV/fm<sup>3</sup>]',83,203,52,{weight:'bold',width:828});
text('zx thermal vorticity',1072,197,52,{weight:'bold',width:490});
text('J<sub>x</sub>/n<sub>0</sub>',2081,199,52,{weight:'bold',width:121});
text('proper baryon density [n<sub>0</sub>]',2625,195,52,{weight:'bold',width:669});
vtext('x&nbsp;&nbsp;[fm]',113,506,56,157,1.25);
vtext('x&nbsp;&nbsp;[fm]',112,1166,56,158,1.25);
vtext('x&nbsp;&nbsp;[fm]',109,1817,56,156,1.25);

const sq=[[252,284,232,280,354,'= 4.9 GeV',370,242],[251,950,899,279,354,'= 7.7 GeV',371,241],[248,1603,1549,276,351,'= 11.5 GeV',367,272]];
sq.forEach(([rx,base,oy,o1,o2,lab,lx,lw])=>{
  text('√',rx,base,52,{family:'"DejaVu Sans"'}).style.fontWeight='200';
  const ov=document.createElement('div');ov.style.cssText='position:absolute;background:#333;height:2.5px;left:'+o1+'px;top:'+oy+'px;width:'+(o2-o1)+'px';document.body.appendChild(ov);
  text('s',o1+4,base,50);
  text('NN',o1+29,base+17,30,{width:45});
  text(lab,lx,base,50,{weight:'bold',width:lw});
});
[[482,2255],[1286,2255],[2091,2255],[2913,2251]].forEach(([l,base])=>{
  text('η',l,base-16,72,{family:'"Liberation Serif"'});
  text('s',l+42,base,44,{weight:'bold'});
});
[[805,792,52],[804,1453,49],[801,2106,46]].forEach(([x,y,h])=>{
  const d=document.createElement('div');d.style.cssText='position:absolute;border-left:1.5px dashed #888;left:'+x+'px;top:'+y+'px;height:'+h+'px';document.body.appendChild(d);
});
</script>
</body></html>
